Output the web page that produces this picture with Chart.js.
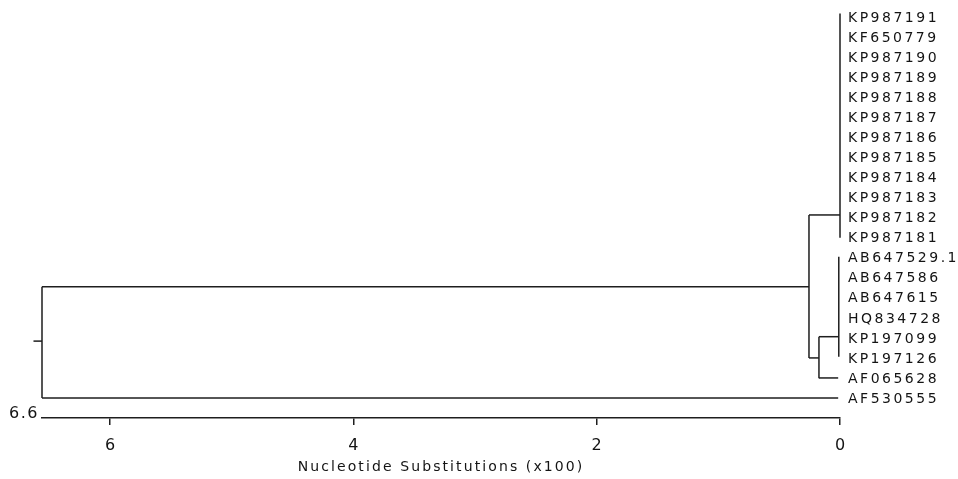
<!DOCTYPE html>
<html>
<head>
<meta charset="utf-8">
<script src="https://cdn.jsdelivr.net/npm/chart.js@4/dist/chart.umd.min.js"></script>
<style>
  html, body { margin: 0; padding: 0; background: #fff; }
  #wrap { width: 958px; height: 479px; position: relative; }
</style>
</head>
<body>
<div id="wrap"><canvas id="c"></canvas></div>
<script>
// ---- data ----
const leaves = ['KP987191','KF650779','KP987190','KP987189','KP987188','KP987187','KP987186',
  'KP987185','KP987184','KP987183','KP987182','KP987181','AB647529.1','AB647586','AB647615',
  'HQ834728','KP197099','KP197126','AF065628','AF530555'];
const xTicks = [6, 4, 2, 0];
const rootDepth = 6.56;
const rootLabel = '6.6';
// internal nodes: height (x100 substitutions), vertical span (rows), row of the join, parent height
const nodeHeight       = [0,     0.01,  0.173, 0.255, 6.56];
const nodeTop          = [-0.2,  11.95, 15.94, 9.86,  13.44];
const nodeBottom       = [11,    16.94, 18.02, 17,    19];
const nodeJoinRow      = [9.86,  15.94, 17,    13.44, 16.16];
const nodeParentHeight = [0.255, 0.173, 0.255, 6.56,  6.63];
// single tips with their own branch
const tipRow    = [18,    19];
const tipHeight = [0.015, 0.015];
const tipParent = [0.173, 6.56];

const lineColor = '#1e1e1e';
const textColor = '#141414';
const FONT = '"DejaVu Sans", Verdana, sans-serif';
const segs = [];
for (let i = 0; i < nodeHeight.length; i++) {
  segs.push([{x: nodeHeight[i], y: nodeTop[i]}, {x: nodeHeight[i], y: nodeBottom[i]}]);
  segs.push([{x: nodeHeight[i], y: nodeJoinRow[i]}, {x: nodeParentHeight[i], y: nodeJoinRow[i]}]);
}
for (let i = 0; i < tipRow.length; i++) {
  segs.push([{x: tipHeight[i], y: tipRow[i]}, {x: tipParent[i], y: tipRow[i]}]);
}
const datasets = segs.map(d => ({
  data: d, showLine: true, borderColor: lineColor, borderWidth: 1.5,
  pointRadius: 0, fill: false, clip: false, tension: 0
}));

Chart.defaults.font.family = FONT;
Chart.defaults.color = textColor;

function wrapSpacing(scale, name, sp) {
  const key = '_sp_' + name;
  if (scale[key]) return;
  const orig = scale[name];
  scale[name] = function (...a) {
    const ctx = this.ctx;
    ctx.save();
    ctx.letterSpacing = sp;
    orig.apply(this, a);
    ctx.restore();
  };
  scale[key] = true;
}

const spacingPlugin = {
  id: 'spacing',
  beforeDraw(chart) {
    wrapSpacing(chart.scales.y, 'drawLabels', '2.5px');
    wrapSpacing(chart.scales.x, 'drawLabels', '0px');
    wrapSpacing(chart.scales.x, 'drawTitle', '2.1px');
  },
  afterDraw(chart) {
    const ctx = chart.ctx;
    const xs = chart.scales.x;
    ctx.save();
    ctx.letterSpacing = '1.5px';
    ctx.font = '16px ' + FONT;
    ctx.fillStyle = textColor;
    ctx.textAlign = 'right';
    ctx.textBaseline = 'middle';
    ctx.fillText(rootLabel, xs.getPixelForValue(rootDepth) - 3, chart.chartArea.bottom - 4);
    ctx.restore();
  }
};

new Chart(document.getElementById('c'), {
  type: 'scatter',
  data: { datasets },
  options: {
    responsive: true, maintainAspectRatio: false, animation: false,
    layout: { padding: { left: 42, right: 0, top: 2, bottom: 0 } },
    plugins: { legend: { display: false }, tooltip: { enabled: false } },
    scales: {
      x: {
        type: 'linear', reverse: true, min: 0, max: rootDepth,
        afterBuildTicks: s => { s.ticks = xTicks.map(v => ({ value: v })); },
        afterFit: s => { s.height = 61; s.paddingLeft = 0; s.paddingRight = 0; },
        grid: { display: true, drawOnChartArea: false, drawTicks: true, tickLength: 7, color: lineColor, lineWidth: 1.5 },
        border: { display: true, color: lineColor, width: 1.5 },
        ticks: { font: { size: 16 }, padding: 11, color: textColor, maxRotation: 0,
                 callback: v => String(v) },
        title: { display: true, text: 'Nucleotide Substitutions (x100)', font: { size: 14 },
                 color: textColor, padding: { top: 0, bottom: 3 } }
      },
      y: {
        type: 'linear', position: 'right', reverse: true, min: -0.775, max: 20,
        afterBuildTicks: s => { s.ticks = leaves.map((_, i) => ({ value: i })); },
        afterFit: s => { s.width = 118; s.paddingTop = 0; s.paddingBottom = 0; },
        grid: { display: false, drawTicks: false },
        border: { display: false },
        ticks: { font: { size: 14 }, padding: 8, color: textColor, labelOffset: 1,
                 callback: v => leaves[v] }
      }
    }
  },
  plugins: [spacingPlugin]
});
</script>
</body>
</html>
